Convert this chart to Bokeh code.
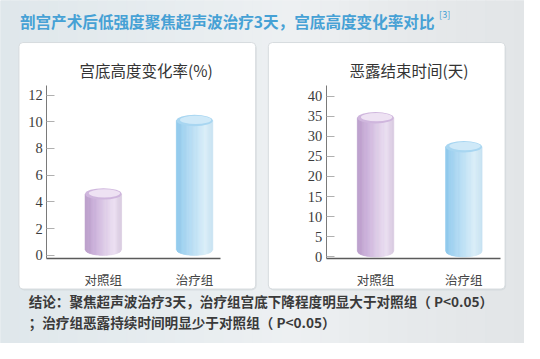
import numpy as np
from bokeh.plotting import figure
from bokeh.models import Range1d, LinearAxis, FixedTicker
from bokeh.core.properties import value
from bokeh.embed import file_html
from bokeh.resources import INLINE

# ---------------- data ----------------
title_text = "剖宫产术后低强度聚焦超声波治疗3天，宫底高度变化率对比"
title_ref = "[3]"
categories = ["对照组", "治疗组"]
fundus_title = "宫底高度变化率(%)"
fundus_change = [4.6, 10.1]
fundus_ticks = [0, 2, 4, 6, 8, 10, 12]
lochia_title = "恶露结束时间(天)"
lochia_days = [34.6, 27.4]
lochia_ticks = [0, 5, 10, 15, 20, 25, 30, 35, 40]
conclusion_lines = [
    "结论：聚焦超声波治疗3天，治疗组宫底下降程度明显大于对照组（ P<0.05）",
    "；治疗组恶露持续时间明显少于对照组（ P<0.05）",
]

# ---------------- layout / style ----------------
W, H = 524, 343
REF_W, REF_H = 540, 359
SX, SY = W / REF_W, H / REF_H
CJK = "Noto Sans CJK SC"

purple = dict(body=[(0, "#b89bc9"), (0.25, "#caafd9"), (0.55, "#ddcbe7"), (0.8, "#ebdff1"), (1, "#d8c9e0")],
              rim="#cfb6dd", face="#eee2f3")
blue = dict(body=[(0, "#8cc8ec"), (0.25, "#a7d5f1"), (0.55, "#c2e2f5"), (0.8, "#daeef8"), (1, "#c6e2f1")],
            rim="#a8d6f1", face="#cfe9f8")
bar_palettes = [purple, blue]
BAR_W_PX = 37.5
CAP_H_PX = 12.0


def hex2rgb(h):
    h = h.lstrip("#")
    return np.array([int(h[i:i + 2], 16) for i in (0, 2, 4)], dtype=float)


def grad(stops, t):
    for (t0, c0), (t1, c1) in zip(stops[:-1], stops[1:]):
        if t0 <= t <= t1:
            f = (t - t0) / (t1 - t0) if t1 > t0 else 0
            c = hex2rgb(c0) * (1 - f) + hex2rgb(c1) * f
            return "#%02x%02x%02x" % tuple(int(round(v)) for v in c)
    return stops[-1][1]


p = figure(width=W, height=H, x_range=Range1d(0, REF_W), y_range=Range1d(REF_H, 0),
           output_backend="svg", toolbar_location=None, min_border=0,
           x_axis_type=None, y_axis_type=None)
p.outline_line_color = None
p.background_fill_color = "#e6ebee"
p.border_fill_color = "#e6ebee"

# background gradient
bg_stops = [(0, "#dfe7eb"), (0.3, "#e6ecef"), (0.55, "#edf0f2"), (0.8, "#e6e9eb"), (1, "#e2e5e7")]
n_bg = 54
edges = np.linspace(0, REF_W, n_bg + 1)
bg_cols = [grad(bg_stops, (k + 0.5) / n_bg) for k in range(n_bg)]
p.quad(left=edges[:-1], right=edges[1:], top=0, bottom=REF_H,
       fill_color=bg_cols, line_color=bg_cols, line_width=1)

# white panels with a faint shadow
p.quad(left=[19.5, 276.5], right=[264, 521], top=[45, 45], bottom=[303.5, 303.5],
       fill_color="#c9cfd3", fill_alpha=0.5, line_color=None, border_radius=5)
p.quad(left=[19, 276], right=[263, 520], top=[44, 44], bottom=[302, 302],
       fill_color="white", line_color="#d6dbde", line_width=1, border_radius=4)

# title
p.text(x=[20], y=[21.5], text=[title_text], text_font=value(CJK), text_font_style="bold",
       text_font_size="15.6px", text_color="#46a1d5", text_baseline="middle", text_align="left")
p.text(x=[452], y=[15], text=[title_ref], text_font=value(CJK), text_font_size="9px",
       text_color="#46a1d5", text_baseline="middle", text_align="left")

# conclusion
p.text(x=[29, 29], y=[315, 336], text=conclusion_lines, text_font=value(CJK), text_font_style="bold",
       text_font_size="13.6px", text_color="#3a3a3a", text_baseline="middle", text_align="left")

x_ranges, y_ranges = {}, {}


def add_chart(key, vals, ticks, title, title_x, y0_px, ytop_px, ytop_val,
              xc0_px, xc1_px, axis_x_px, axis_right_px, axis_y_px, axis_top_px):
    xn, yn = "x" + key, "y" + key
    ky = (ytop_px - y0_px) / ytop_val
    kx = (xc1_px - xc0_px)
    y_ranges[yn] = Range1d((REF_H - y0_px) / ky, (0 - y0_px) / ky)
    x_ranges[xn] = Range1d((0 - xc0_px) / kx, (REF_W - xc0_px) / kx)
    p.extra_y_ranges = dict(y_ranges)
    p.extra_x_ranges = dict(x_ranges)

    p.text(x=[title_x], y=[73], text=[title], text_font=value(CJK), text_font_size="15.5px",
           text_color="#333333", text_baseline="middle", text_align="center")

    bw = BAR_W_PX / kx
    cap_half = CAP_H_PX / 2 / abs(ky)
    n = 30
    xe = np.linspace(-bw / 2, bw / 2, n + 1)
    for i, v in enumerate(vals):
        pal = bar_palettes[i]
        base = cap_half
        xs, ys, cols = [], [], []
        for j in range(n):
            a, b = xe[j], xe[j + 1]
            ya = base - cap_half * np.sqrt(max(0.0, 1 - (2 * a / bw) ** 2))
            yb = base - cap_half * np.sqrt(max(0.0, 1 - (2 * b / bw) ** 2))
            xs.append([i + a, i + b, i + b, i + a])
            ys.append([v, v, yb, ya])
            cols.append(grad(pal["body"], (j + 0.5) / n))
        p.patches(xs, ys, fill_color=cols, line_color=cols, line_width=0.7,
                  x_range_name=xn, y_range_name=yn)
        p.ellipse(x=[i], y=[v], width=bw, height=CAP_H_PX * SY, height_units="screen",
                  fill_color=pal["rim"], line_color=None, x_range_name=xn, y_range_name=yn)
        p.ellipse(x=[i + bw * 0.03], y=[v + cap_half * 0.1], width=bw * 0.86,
                  height=CAP_H_PX * SY * 0.72, height_units="screen",
                  fill_color=pal["face"], line_color=None, x_range_name=xn, y_range_name=yn)

    yax = LinearAxis(y_range_name=yn, fixed_location=axis_x_px,
                     bounds=((axis_y_px - y0_px) / ky, (axis_top_px - y0_px) / ky),
                     ticker=FixedTicker(ticks=ticks, minor_ticks=[]))
    yax.axis_line_color = "#7a7a7a"
    yax.major_tick_line_color = "#b0b0b0"
    yax.major_tick_in = 8
    yax.major_tick_out = 0
    yax.minor_tick_line_color = None
    yax.major_label_standoff = 4
    yax.major_label_text_font = "Liberation Serif"
    yax.major_label_text_font_size = "14.5px"
    yax.major_label_text_color = "#3c3c3c"
    p.add_layout(yax, "left")

    xax = LinearAxis(x_range_name=xn, fixed_location=axis_y_px,
                     bounds=((axis_x_px - xc0_px) / kx, (axis_right_px - xc0_px) / kx),
                     ticker=FixedTicker(ticks=list(range(len(categories))), minor_ticks=[]),
                     major_label_overrides={i: c for i, c in enumerate(categories)})
    xax.axis_line_color = "#5a5a5a"
    xax.axis_line_width = 1.6
    xax.major_tick_line_color = None
    xax.minor_tick_line_color = None
    xax.major_label_standoff = 6
    xax.major_label_text_font = CJK
    xax.major_label_text_font_size = "12.5px"
    xax.major_label_text_color = "#444444"
    p.add_layout(xax, "below")


add_chart("1", fundus_change, fundus_ticks, fundus_title, 150,
          y0_px=266.7, ytop_px=99.0, ytop_val=12,
          xc0_px=106, xc1_px=200, axis_x_px=47.7, axis_right_px=226.7,
          axis_y_px=270, axis_top_px=89.3)
add_chart("2", lochia_days, lochia_ticks, lochia_title, 421,
          y0_px=268.3, ytop_px=100.0, ytop_val=40,
          xc0_px=386.5, xc1_px=477.5, axis_x_px=335.7, axis_right_px=515,
          axis_y_px=270, axis_top_px=89.3)

open("out.html", "w").write(file_html(p, INLINE))
